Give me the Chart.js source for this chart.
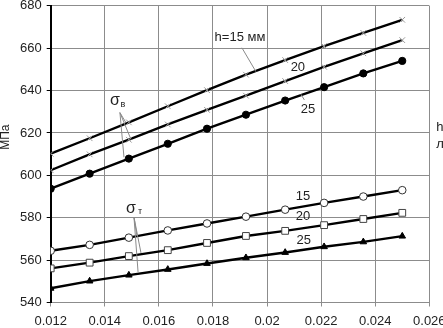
<!DOCTYPE html>
<html>
<head>
<meta charset="utf-8">
<script src="https://cdn.jsdelivr.net/npm/chart.js@4.4.1/dist/chart.umd.min.js"></script>
<style>
html,body{margin:0;padding:0;background:#fff;}
canvas{display:block;}
</style>
</head>
<body>
<canvas id="c" width="443" height="328"></canvas>
<script>
// ---- data ----
const xValues = [0.012, 0.01344, 0.01489, 0.01633, 0.01778, 0.01922, 0.02067, 0.02211, 0.02356, 0.025];
const sigmaB15 = [610.2, 617.5, 625.0, 632.6, 640.2, 647.5, 654.4, 661.0, 667.2, 673.4];
const sigmaB20 = [602.4, 609.9, 616.8, 624.0, 630.9, 637.6, 644.5, 651.2, 657.6, 663.8];
const sigmaB25 = [593.7, 600.8, 607.9, 614.9, 622.0, 628.6, 635.3, 641.6, 648.1, 654.0];
const sigmaT15 = [564.4, 567.2, 570.6, 574.0, 577.3, 580.5, 583.8, 587.0, 590.0, 593.0];
const sigmaT20 = [556.1, 558.8, 561.9, 564.7, 568.1, 571.4, 573.8, 576.5, 579.4, 582.3];
const sigmaT25 = [546.7, 550.1, 552.9, 555.6, 558.4, 561.1, 563.6, 566.3, 568.6, 571.3];
const xTickValues = [0.012, 0.014, 0.016, 0.018, 0.020, 0.022, 0.024, 0.026];
const xTickLabels = ['0.012', '0.014', '0.016', '0.018', '0.02', '0.022', '0.024', '0.026'];
const yTickValues = [540, 560, 580, 600, 620, 640, 660, 680];
const yTickLabels = ['540', '560', '580', '600', '620', '640', '660', '680'];
const yAxisTitle = 'МПа';
const cutLabelLines = ['h', 'л'];

// annotations in data coordinates
const textNotes = [
  {t: 'h=15 мм', x: 0.0190, y: 664.9},
  {t: '20', x: 0.02114, y: 650.8},
  {t: '25', x: 0.02151, y: 631.3},
  {t: '15', x: 0.02133, y: 590.1},
  {t: '20', x: 0.02133, y: 580.7},
  {t: '25', x: 0.02136, y: 569.4}
];
const sigmaNotes = [
  {main: 'σ', sub: 'в', x: 0.01438, y: 635.3, sx: 0.01467, sy: 633.2},
  {main: 'σ', sub: 'т', x: 0.01497, y: 584.5, sx: 0.01530, sy: 582.9}
];
const leaderLines = [
  [0.01907, 660.2, 0.01959, 648.9],
  [0.02125, 638.3, 0.02138, 635.6],
  [0.01456, 629.6, 0.01478, 624.9],
  [0.01456, 629.6, 0.01497, 616.9],
  [0.01456, 629.6, 0.01471, 608.5],
  [0.01508, 580.2, 0.01519, 571.3],
  [0.01508, 580.2, 0.01534, 563.3],
  [0.01508, 580.2, 0.01523, 554.4]
];

const FONT = "'Liberation Sans', Arial, sans-serif";
const TXT = '#222';

function pts(arr){ return xValues.map((x,i)=>({x:x, y:arr[i]})); }

function ds(arr, style){
  return Object.assign({
    data: pts(arr),
    borderColor: '#000',
    borderWidth: 2.4,
    tension: 0,
    fill: false,
    pointHitRadius: 0
  }, style);
}

const annot = {
  id: 'annot',
  afterDatasetsDraw(chart){
    const ctx = chart.ctx, xs = chart.scales.x, ys = chart.scales.y;
    ctx.save();
    ctx.strokeStyle = '#8a8a8a';
    ctx.lineWidth = 1;
    leaderLines.forEach(l=>{
      ctx.beginPath();
      ctx.moveTo(xs.getPixelForValue(l[0]), ys.getPixelForValue(l[1]));
      ctx.lineTo(xs.getPixelForValue(l[2]), ys.getPixelForValue(l[3]));
      ctx.stroke();
    });
    ctx.fillStyle = TXT;
    ctx.textAlign = 'center';
    ctx.textBaseline = 'middle';
    ctx.font = '13px ' + FONT;
    textNotes.forEach(n=>{
      ctx.fillText(n.t, xs.getPixelForValue(n.x), ys.getPixelForValue(n.y));
    });
    sigmaNotes.forEach(n=>{
      ctx.font = '16px ' + FONT;
      ctx.fillText(n.main, xs.getPixelForValue(n.x), ys.getPixelForValue(n.y));
      ctx.font = '9px ' + FONT;
      ctx.fillText(n.sub, xs.getPixelForValue(n.sx), ys.getPixelForValue(n.sy));
    });
    // y axis title
    ctx.font = '12px ' + FONT;
    ctx.save();
    ctx.translate(6, (chart.chartArea.top + chart.chartArea.bottom)/2 - 17);
    ctx.rotate(-Math.PI/2);
    ctx.fillText(yAxisTitle, 0, 0);
    ctx.restore();
    // cut-off label on the right
    ctx.font = '13px ' + FONT;
    ctx.textAlign = 'left';
    const ca = chart.chartArea;
    cutLabelLines.forEach((s,i)=>{
      ctx.fillText(s, ca.right + 7, ys.getPixelForValue(622.5) + i*17);
    });
    ctx.restore();
  }
};

new Chart(document.getElementById('c'), {
  type: 'line',
  data: {
    datasets: [
      ds(sigmaB15, {pointStyle:'crossRot', pointRadius:4, pointBorderColor:'#9a9a9a', pointBorderWidth:1, pointBackgroundColor:'#9a9a9a'}),
      ds(sigmaB20, {pointStyle:'crossRot', pointRadius:4, pointBorderColor:'#9a9a9a', pointBorderWidth:1, pointBackgroundColor:'#9a9a9a'}),
      ds(sigmaB25, {pointStyle:'circle', pointRadius:3.6, pointBorderColor:'#000', pointBorderWidth:1, pointBackgroundColor:'#000'}),
      ds(sigmaT15, {pointStyle:'circle', pointRadius:3.8, pointBorderColor:'#333', pointBorderWidth:1, pointBackgroundColor:'#fff'}),
      ds(sigmaT20, {pointStyle:'rect', pointRadius:4.8, pointBorderColor:'#444', pointBorderWidth:1, pointBackgroundColor:'#fff'}),
      ds(sigmaT25, {pointStyle:'triangle', pointRadius:3.8, pointBorderColor:'#000', pointBorderWidth:1, pointBackgroundColor:'#000'})
    ]
  },
  options: {
    responsive: false,
    animation: false,
    devicePixelRatio: 1,
    layout: {padding: {top: 5, right: 13.7, left: 0, bottom: 0}},
    plugins: {legend: {display: false}, tooltip: {enabled: false}, title: {display: false}},
    scales: {
      x: {
        type: 'linear',
        min: 0.012, max: 0.026,
        afterBuildTicks(s){ s.ticks = xTickValues.map(v=>({value:v})); },
        afterFit(s){ s.height = 25.5; s.paddingLeft = 0; s.paddingRight = 0; },
        ticks: {
          callback: (v,i)=>xTickLabels[i],
          font: {family: FONT, size: 13},
          color: TXT,
          padding: 7,
          maxRotation: 0,
          autoSkip: false
        },
        grid: {color: '#8c8c8c', lineWidth: 1, tickLength: 4, tickColor: '#8c8c8c'},
        border: {color: '#8c8c8c', width: 1}
      },
      y: {
        min: 540, max: 680,
        afterBuildTicks(s){ s.ticks = yTickValues.map(v=>({value:v})); },
        afterFit(s){ s.width = 50.7; s.paddingTop = 0; s.paddingBottom = 0; },
        ticks: {
          callback: (v,i)=>yTickLabels[i],
          font: {family: FONT, size: 13},
          color: TXT,
          padding: 5
        },
        grid: {color: '#8c8c8c', lineWidth: 1, tickLength: 4, tickColor: '#000'},
        border: {color: '#000', width: 2}
      }
    }
  },
  plugins: [annot]
});
</script>
</body>
</html>
